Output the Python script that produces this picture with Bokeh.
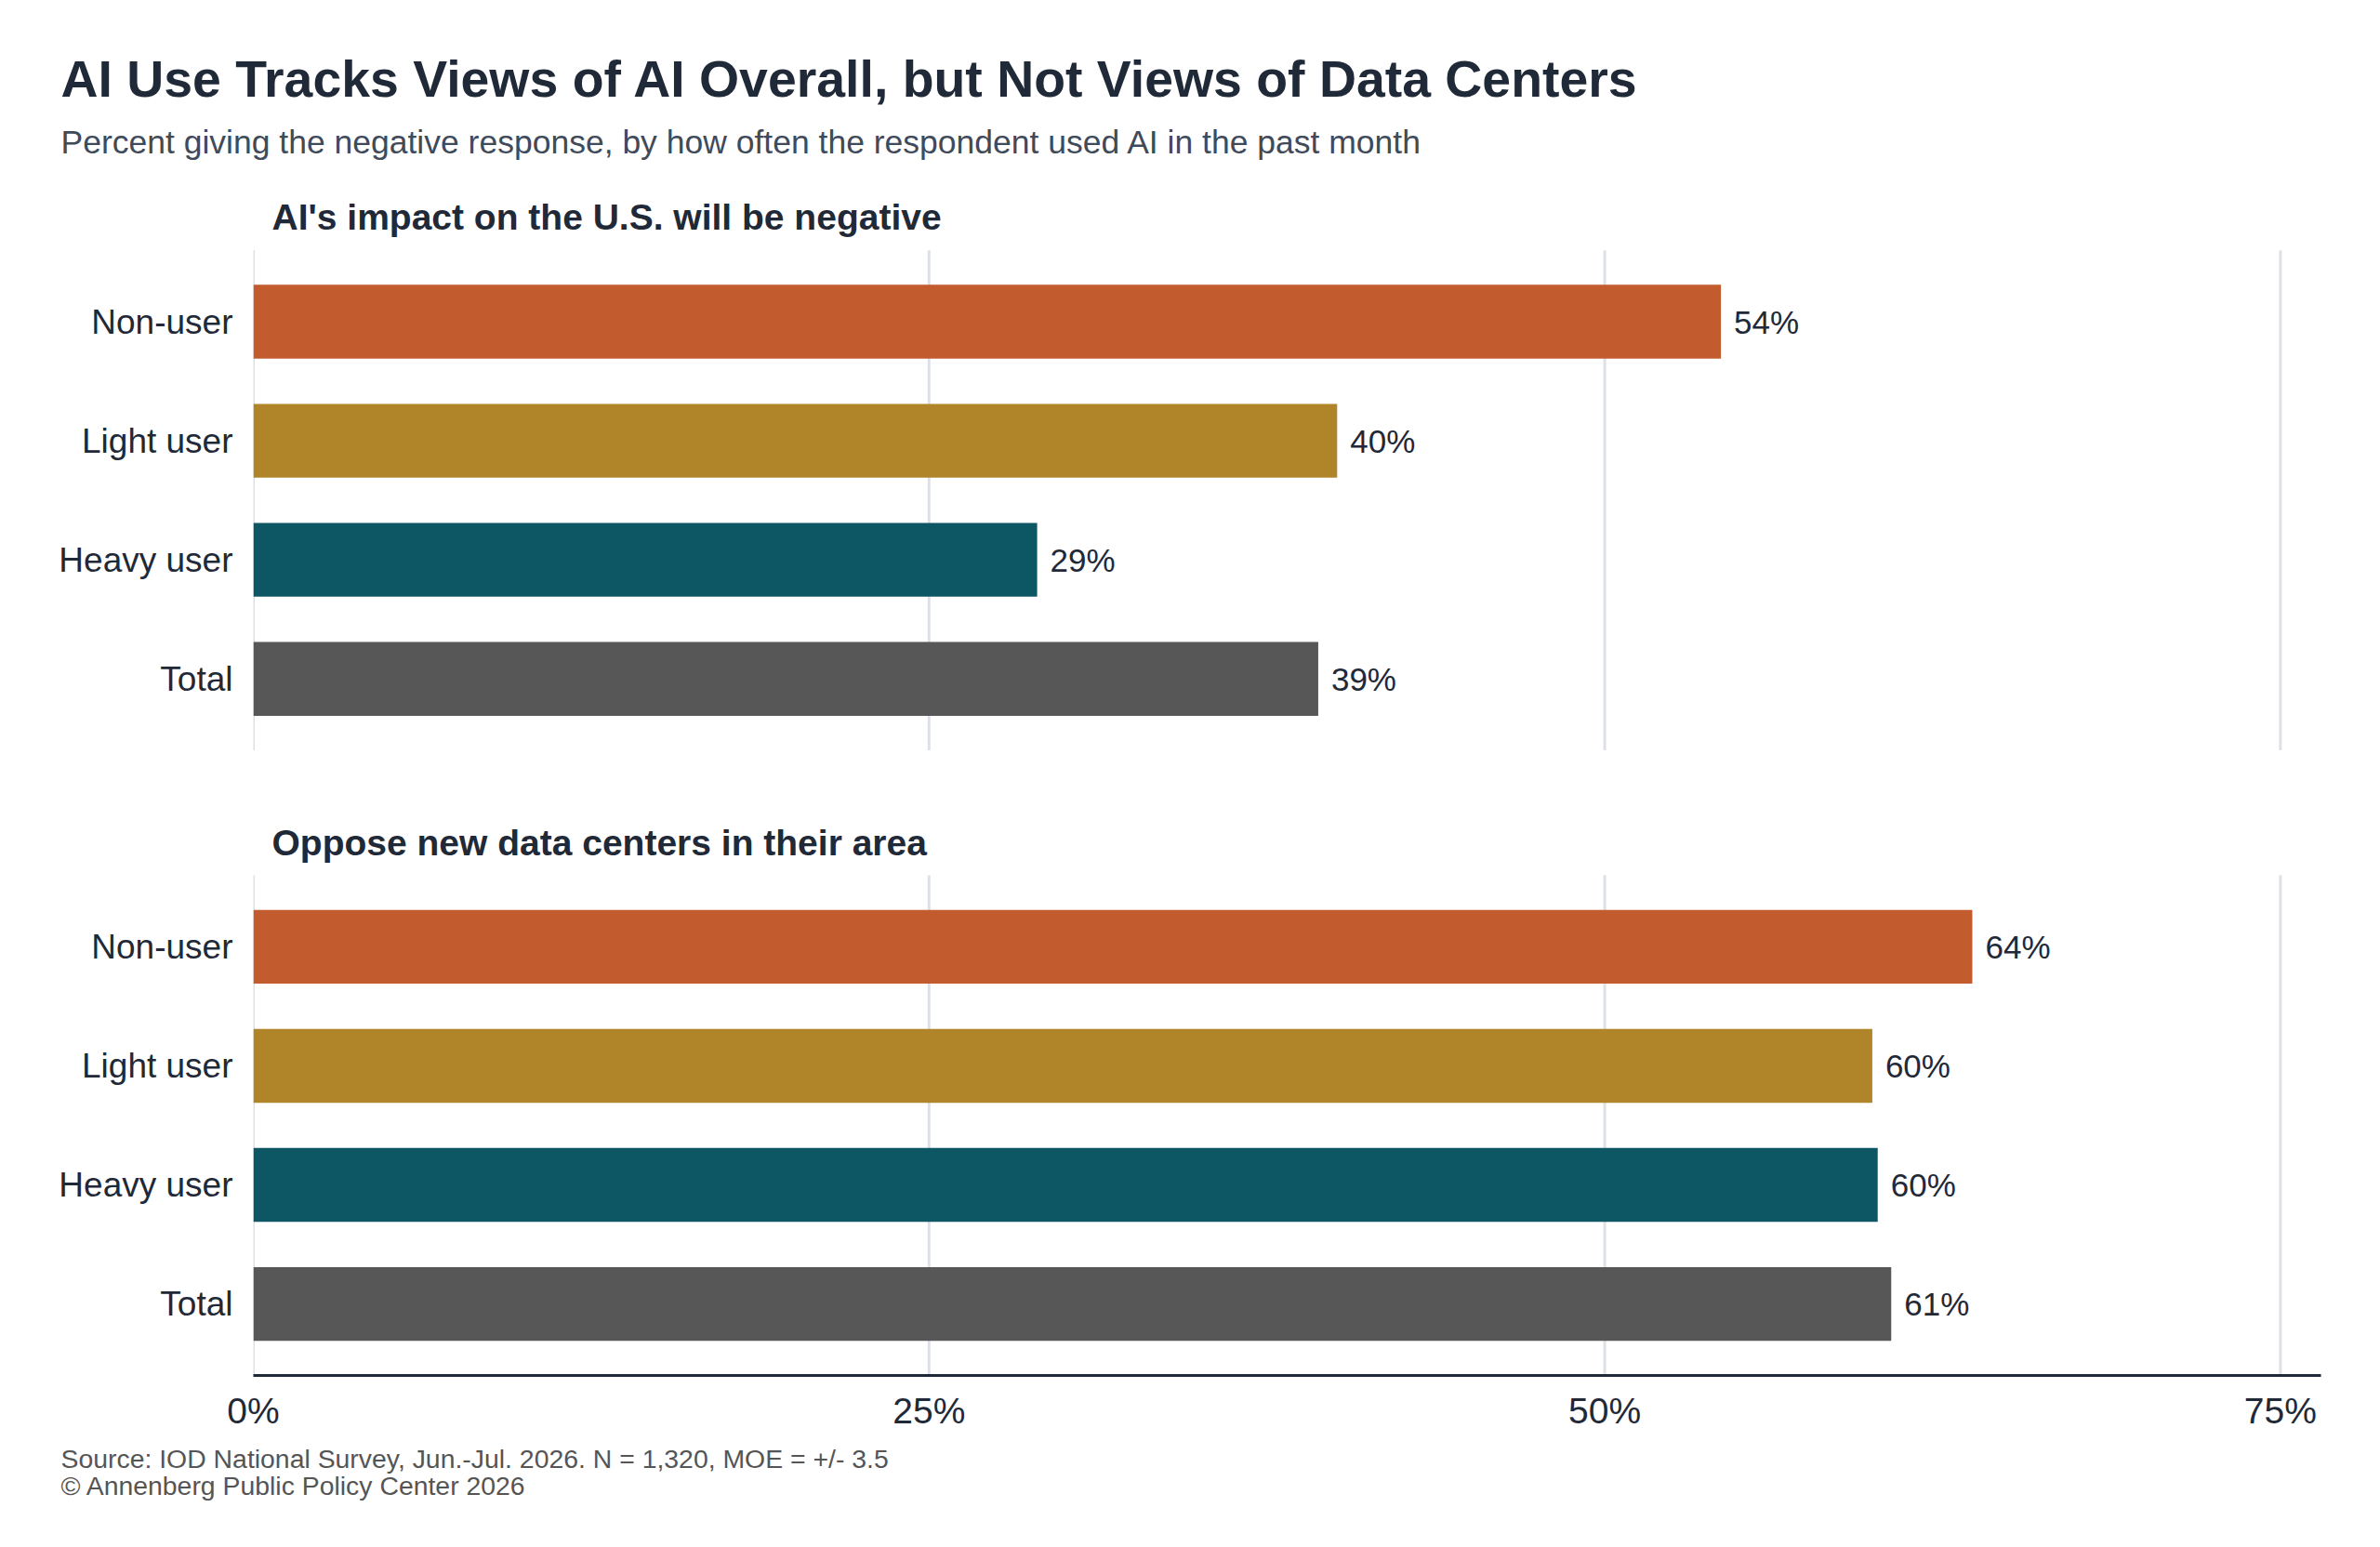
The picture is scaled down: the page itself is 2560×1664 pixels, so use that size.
from bokeh.plotting import figure
from bokeh.models import Range1d, FixedTicker, ColumnDataSource
from bokeh.embed import file_html
from bokeh.resources import INLINE
from bokeh.core.properties import value

# ---------------- data ----------------
categories = ["Non-user", "Light user", "Heavy user", "Total"]
bar_colors = ["#C25B2E", "#B08429", "#0D5663", "#575757"]
impact_negative = [54.3, 40.1, 29.0, 39.4]
oppose_data_centers = [63.6, 59.9, 60.1, 60.6]
panel_titles = ["AI's impact on the U.S. will be negative",
                "Oppose new data centers in their area"]
x_ticks = [0, 25, 50, 75]
x_tick_labels = ["0%", "25%", "50%", "75%"]

chart_title = "AI Use Tracks Views of AI Overall, but Not Views of Data Centers"
chart_subtitle = ("Percent giving the negative response, by how often the "
                  "respondent used AI in the past month")
source_note = "Source: IOD National Survey, Jun.-Jul. 2026. N = 1,320, MOE = +/- 3.5"
credit_note = "\u00a9 Annenberg Public Policy Center 2026"

# ---------------- layout ----------------
W, H = 2544, 1648
LEFT, RIGHT, TOP, BOTTOM = 272, 2496, 179, 1479     # frame edges, px
X0, X1 = 0, 76.5
Y_TOP, Y_BOT = -5.2, 35.4
FONT = "Liberation Sans"
DARK = "#1f2937"
BAND = 4              # y units per category band
PAD = 0.6 * BAND
panel_starts = [0, 21]
panels = [impact_negative, oppose_data_centers]


def px_x(px):   # page px -> data x (for text placed outside the frame)
    return X0 + (px - LEFT) * (X1 - X0) / (RIGHT - LEFT)


def px_y(py):   # page px -> data y
    return Y_TOP + (py - TOP) * (Y_BOT - Y_TOP) / (BOTTOM - TOP)


p = figure(width=W, height=H, output_backend="svg", toolbar_location=None,
           x_range=Range1d(X0, X1), y_range=Range1d(Y_BOT, Y_TOP),
           min_border_left=LEFT, min_border_right=W - RIGHT,
           min_border_top=TOP, min_border_bottom=H - BOTTOM)
p.outline_line_color = None
p.xgrid.visible = False
p.ygrid.visible = False

for start in panel_starts:
    top = start - PAD
    bottom = start + 3 * BAND + PAD
    p.segment(x0=x_ticks, x1=x_ticks, y0=[top] * len(x_ticks), y1=[bottom] * len(x_ticks),
              line_color="#dde1e6", line_width=3)

tick_pos = []
tick_names = {}
for start, vals, ptitle in zip(panel_starts, panels, panel_titles):
    ys = [start + i * BAND for i in range(len(categories))]
    src = ColumnDataSource(dict(y=ys, v=vals, c=bar_colors,
                                lab=[f"{round(v)}%" for v in vals]))
    p.hbar(y="y", left=0, right="v", height=0.62 * BAND, fill_color="c",
           line_color=None, source=src)
    p.text(x="v", y="y", text="lab", source=src, x_offset=14,
           text_baseline="middle", text_align="left",
           text_font=value(FONT), text_font_size="35px", text_color=DARK)
    p.text(x=[0], y=[start - PAD - 1.1], text=[ptitle], x_offset=20,
           text_baseline="middle", text_align="left",
           text_font=value(FONT), text_font_style="bold",
           text_font_size="39px", text_color=DARK)
    for y, name in zip(ys, categories):
        tick_pos.append(y)
        tick_names[y] = name

yax = p.yaxis[0]
yax.ticker = FixedTicker(ticks=tick_pos)
yax.major_label_overrides = tick_names
yax.axis_line_color = None
yax.major_tick_line_color = None
yax.minor_tick_line_color = None
yax.major_tick_out = 0
yax.major_tick_in = 0
yax.major_label_standoff = 22
yax.major_label_text_font = FONT
yax.major_label_text_font_size = "37px"
yax.major_label_text_color = DARK

xax = p.xaxis[0]
xax.ticker = FixedTicker(ticks=x_ticks)
xax.major_label_overrides = dict(zip(x_ticks, x_tick_labels))
xax.axis_line_color = DARK
xax.axis_line_width = 3
xax.major_tick_line_color = None
xax.minor_tick_line_color = None
xax.major_tick_out = 0
xax.major_tick_in = 0
xax.major_label_standoff = 16
xax.major_label_text_font = FONT
xax.major_label_text_font_size = "39px"
xax.major_label_text_color = DARK

# ---- header and footer (drawn at overlay level, outside the frame) ----
p.text(x=[px_x(65)], y=[px_y(84)], text=[chart_title], text_baseline="middle",
       text_font=value(FONT), text_font_style="bold", text_font_size="55.4px",
       text_color=DARK, level="overlay")
p.text(x=[px_x(65)], y=[px_y(152)], text=[chart_subtitle], text_baseline="middle",
       text_font=value(FONT), text_font_size="35.5px", text_color="#3f4a5a",
       level="overlay")
p.text(x=[px_x(65)] * 2, y=[px_y(1568), px_y(1597.5)], text=[source_note, credit_note],
       text_baseline="middle", text_font=value(FONT), text_font_size="28.4px",
       text_color="#555555", level="overlay")

open("out.html", "w").write(file_html(p, INLINE))
